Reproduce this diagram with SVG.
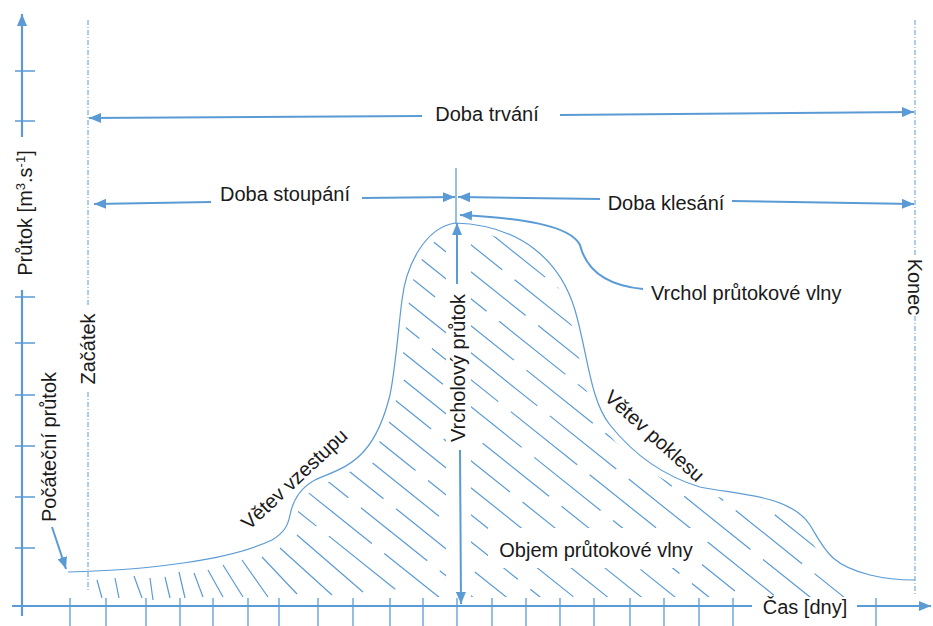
<svg xmlns="http://www.w3.org/2000/svg" width="933" height="626" viewBox="0 0 933 626">
<style>
.ax{stroke:#5B9BD5;stroke-width:2.2;fill:none}
.tk{stroke:#5B9BD5;stroke-width:1.3;fill:none}
.ar{stroke:#5B9BD5;stroke-width:2;fill:none}
.cv{stroke:#5B9BD5;stroke-width:1.2;fill:none}
.dd{stroke:#5B9BD5;stroke-width:1;fill:none;stroke-dasharray:5 2 1 2}
.h{stroke:#5B9BD5;stroke-width:1.2;fill:none}
.hd{stroke:#5B9BD5;stroke-width:1.2;fill:none;stroke-dasharray:85 16}
text{font-family:"Liberation Sans",Arial,sans-serif;font-size:20px;fill:#1a1a1a}
</style>
<defs>
<marker id="ah" viewBox="0 0 12 10" refX="12" refY="5" markerWidth="12" markerHeight="10" markerUnits="userSpaceOnUse" orient="auto-start-reverse">
<path d="M0,0 L12,5 L0,10 z" fill="#5B9BD5"/>
</marker>
<path id="curve" d="M 68 572 C 150 570, 230 560, 272 540 C 285 532, 288 525, 290 515 C 293 500, 300 488, 315 480 C 330 473, 350 468, 365 450 C 378 435, 385 415, 390 395 C 396 365, 398 330, 402 300 C 406 265, 425 228, 455 223 C 520 225, 560 260, 575 310 C 588 355, 590 400, 610 425 C 630 450, 660 475, 700 487 C 740 495, 790 495, 810 525 C 825 550, 830 565, 870 575 C 890 580, 905 580, 915 580"/>
<mask id="hm" maskUnits="userSpaceOnUse" x="0" y="0" width="933" height="626">
<path d="M 68 572 C 150 570, 230 560, 272 540 C 285 532, 288 525, 290 515 C 293 500, 300 488, 315 480 C 330 473, 350 468, 365 450 C 378 435, 385 415, 390 395 C 396 365, 398 330, 402 300 C 406 265, 425 228, 455 223 C 520 225, 560 260, 575 310 C 588 355, 590 400, 610 425 C 630 450, 660 475, 700 487 C 740 495, 790 495, 810 525 C 825 550, 830 565, 870 575 C 890 580, 905 580, 915 580 L 915 597 L 68 597 Z" fill="#fff"/>
<use href="#curve" fill="none" stroke="#000" stroke-width="14"/>
<rect x="446" y="200" width="25" height="400" fill="#000"/>
<rect x="488" y="528" width="214" height="40" fill="#000"/>
<rect x="845" y="400" width="100" height="226" fill="#000"/>
</mask>
</defs>

<g id="axes">
<path class="ax" d="M22 616 V290"/>
<path class="ax" d="M22 137 V14" marker-end="url(#ah)"/>
<path class="ax" d="M12 606 H752"/>
<path class="ax" d="M857 606 H931" marker-end="url(#ah)"/>
<path class="tk" d="M15 71 H35 M15 121 H35 M15 297 H35 M15 343 H35 M15 395 H35 M15 446 H35 M15 497 H35 M15 548 H35"/>
<path class="tk" d="M70 598 V626 M106 598 V626 M146 598 V626 M180 598 V626 M213 598 V626 M248 598 V626 M279 598 V626 M318 598 V626 M353 598 V626 M390 598 V626 M423 598 V626 M457 598 V626 M492 598 V626 M526 598 V626 M560 598 V626 M594 598 V626 M630 598 V626 M664 598 V626 M699 598 V626 M733 598 V626 M876 598 V626"/>
<text transform="translate(32,213) rotate(-90)" text-anchor="middle">Průtok [m<tspan font-size="13" dy="-7">3</tspan><tspan dy="7">.s</tspan><tspan font-size="13" dy="-7">-1</tspan><tspan dy="7">]</tspan></text>
<text x="805" y="614" text-anchor="middle">Čas [dny]</text>
</g>

<g id="start">
<path class="dd" d="M88 20 V306 M88 392 V592"/>
<text transform="translate(95,349) rotate(-90)" text-anchor="middle">Začátek</text>
</g>

<g id="end">
<path class="dd" d="M915 20 V256 M915 316 V596"/>
<text transform="translate(908,287) rotate(90)" text-anchor="middle">Konec</text>
</g>

<g id="hydrograph">
<use href="#curve" class="cv"/>
</g>

<g id="hatch">
<path class="h" d="M97 580 L102 598 M115 578 L119 598 M134 576 L142 598 M150 578 L153 600 M165 577 L170 598 M179 572 L185 598 M194 573 L203 597 M208 570 L223 597 M223 565 L243 597 M242 560 L268 597 M262 557 L297 594 M280 548 L332 595 M297 535 L363 592"/>
<g mask="url(#hm)">
<path class="hd" d="M250 473 L930 1017" stroke-dashoffset="0"/>
<path class="hd" d="M250 446 L930 990" stroke-dashoffset="30"/>
<path class="hd" d="M250 419 L930 963" stroke-dashoffset="60"/>
<path class="hd" d="M250 392 L930 936" stroke-dashoffset="15"/>
<path class="hd" d="M250 365 L930 909" stroke-dashoffset="45"/>
<path class="hd" d="M250 338 L930 882" stroke-dashoffset="75"/>
<path class="hd" d="M250 311 L930 855" stroke-dashoffset="25"/>
<path class="hd" d="M250 284 L930 828" stroke-dashoffset="55"/>
<path class="hd" d="M250 257 L930 801" stroke-dashoffset="5"/>
<path class="hd" d="M250 230 L930 774" stroke-dashoffset="40"/>
<path class="hd" d="M250 203 L930 747" stroke-dashoffset="70"/>
<path class="hd" d="M250 176 L930 720" stroke-dashoffset="20"/>
<path class="hd" d="M250 149 L930 693" stroke-dashoffset="50"/>
<path class="hd" d="M250 122 L930 666" stroke-dashoffset="85"/>
<path class="hd" d="M250 95 L930 639" stroke-dashoffset="35"/>
<path class="hd" d="M250 68 L930 612" stroke-dashoffset="65"/>
<path class="hd" d="M250 41 L930 585" stroke-dashoffset="10"/>
</g>
</g>

<g id="connectors">
<path class="ar" d="M422 116 L89 118" marker-end="url(#ah)"/>
<path class="ar" d="M560 115 L914 112" marker-end="url(#ah)"/>
<path class="ar" d="M211 202 L94 204" marker-end="url(#ah)"/>
<path class="ar" d="M362 198 L455 197" marker-end="url(#ah)"/>
<path class="ar" d="M600 199 L458 197" marker-end="url(#ah)"/>
<path class="ar" d="M732 201 L914 204" marker-end="url(#ah)"/>
<path class="tk" d="M456 168 V224"/>
<path class="ar" d="M457 284 L457 223" marker-end="url(#ah)"/>
<path class="ar" d="M460 450 L461 604" marker-end="url(#ah)"/>
<path class="ar" d="M643 289 C 600 285, 585 265, 580 245 C 570 225, 520 218, 460 215" marker-end="url(#ah)"/>
<path class="ar" d="M52 527 L66 569" marker-end="url(#ah)"/>
</g>

<g id="labels">
<text x="487" y="121" text-anchor="middle">Doba trvání</text>
<text x="285" y="201" text-anchor="middle">Doba stoupání</text>
<text x="666" y="210" text-anchor="middle">Doba klesání</text>
<text x="651" y="300">Vrchol průtokové vlny</text>
<text transform="translate(465,368) rotate(-90)" text-anchor="middle">Vrcholový průtok</text>
<text transform="translate(56,447) rotate(-90)" text-anchor="middle">Počáteční průtok</text>
<text transform="translate(299,484) rotate(-43)" text-anchor="middle">Větev vzestupu</text>
<text transform="translate(650,441) rotate(42)" text-anchor="middle">Větev poklesu</text>
<text x="596" y="557" text-anchor="middle">Objem průtokové vlny</text>
</g>
</svg>
